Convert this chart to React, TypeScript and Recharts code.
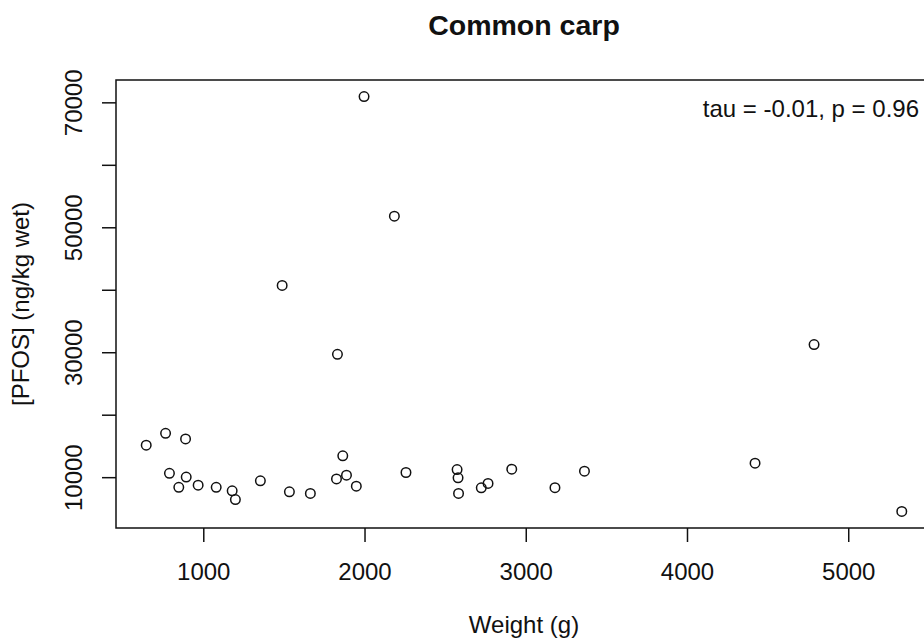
import React from 'react'
import { ScatterChart, Scatter, XAxis, YAxis, ReferenceArea, Customized } from 'recharts'

// weight (g) and PFOS (ng/kg wet) for each fish
const weights = [643, 763, 887, 787, 891, 845, 965, 1077, 1176, 1196, 1351, 1531, 1661, 1862, 1823, 1885, 1946, 2254, 2571, 2577, 2580, 2721, 2763, 2910, 3178, 3361, 4419, 5329, 1994, 2182, 1486, 1829, 4785]
const pfos = [15200, 17100, 16200, 10700, 10100, 8450, 8800, 8450, 7900, 6500, 9500, 7730, 7470, 13500, 9800, 10400, 8640, 10830, 11300, 9970, 7470, 8370, 9070, 11360, 8400, 11040, 12320, 4600, 71000, 51860, 40780, 29750, 31300]

const xTicks = [1000, 2000, 3000, 4000, 5000]
const yTicks = [10000, 20000, 30000, 40000, 50000, 60000, 70000]
const yLabelTicks = [10000, 30000, 50000, 70000]

const title = 'Common carp'
const xLabel = 'Weight (g)'
const yLabel = '[PFOS] (ng/kg wet)'
const statText = 'tau = -0.01, p = 0.96'

const FONT = '"Liberation Sans", Arial, Helvetica, sans-serif'
const INK = '#111'

// R style: axis range = data range padded by 4% each side
function rDomain(vals: number[]): [number, number] {
  const lo = Math.min(...vals)
  const hi = Math.max(...vals)
  const pad = (hi - lo) * 0.04
  return [lo - pad, hi + pad]
}

const xDomain = rDomain(weights)
const yDomain = rDomain(pfos)

const points = weights.map((w, i) => ({ x: w, y: pfos[i] }))

function OpenCircle(props: any) {
  const { cx, cy } = props
  if (cx == null || cy == null) return null
  return <circle cx={cx} cy={cy} r={4.75} fill="none" stroke={INK} strokeWidth={1.5} />
}

function XTick({ x, y, payload }: any) {
  return (
    <text x={x} y={y + 17} textAnchor="middle" fontFamily={FONT} fontSize={24} fill={INK}>
      {payload.value}
    </text>
  )
}

function YTick({ x, y, payload }: any) {
  if (!yLabelTicks.includes(payload.value)) return null
  return (
    <text x={x} y={y} transform={`rotate(-90, ${x}, ${y})`} textAnchor="middle" fontFamily={FONT} fontSize={24} fill={INK}>
      {payload.value}
    </text>
  )
}

function Texts() {
  return (
    <g fontFamily={FONT} fill={INK}>
      <text x={524} y={34.5} textAnchor="middle" fontSize={28.5} fontWeight="bold">{title}</text>
      <text x={524} y={633} textAnchor="middle" fontSize={24}>{xLabel}</text>
      <text x={29} y={304} transform="rotate(-90, 29, 304)" textAnchor="middle" fontSize={24}>{yLabel}</text>
      <text x={919} y={117} textAnchor="end" fontSize={24}>{statText}</text>
    </g>
  )
}

export default function App() {
  return (
    <div style={{ position: 'absolute', left: 0, top: 0, width: 924, height: 644, overflow: 'hidden', background: '#fff' }}>
      <ScatterChart width={940} height={644} margin={{ top: 80, right: 8, bottom: 56, left: 56 }}>
        <XAxis
          type="number"
          dataKey="x"
          domain={xDomain}
          ticks={xTicks}
          interval={0}
          allowDataOverflow
          axisLine={false}
          tickLine={{ stroke: INK, strokeWidth: 1.5 }}
          tickSize={14}
          tickMargin={21}
          height={60}
          tick={<XTick />}
        />
        <YAxis
          type="number"
          dataKey="y"
          domain={yDomain}
          ticks={yTicks}
          interval={0}
          allowDataOverflow
          axisLine={false}
          tickLine={{ stroke: INK, strokeWidth: 1.5 }}
          tickSize={14}
          tickMargin={20}
          width={60}
          tick={<YTick />}
        />
        <ReferenceArea
          x1={xDomain[0]}
          x2={xDomain[1]}
          y1={yDomain[0]}
          y2={yDomain[1]}
          fill="none"
          fillOpacity={0}
          stroke={INK}
          strokeWidth={1.5}
          ifOverflow="visible"
        />
        <Scatter data={points} shape={<OpenCircle />} isAnimationActive={false} />
        <Customized component={<Texts />} />
      </ScatterChart>
    </div>
  )
}
